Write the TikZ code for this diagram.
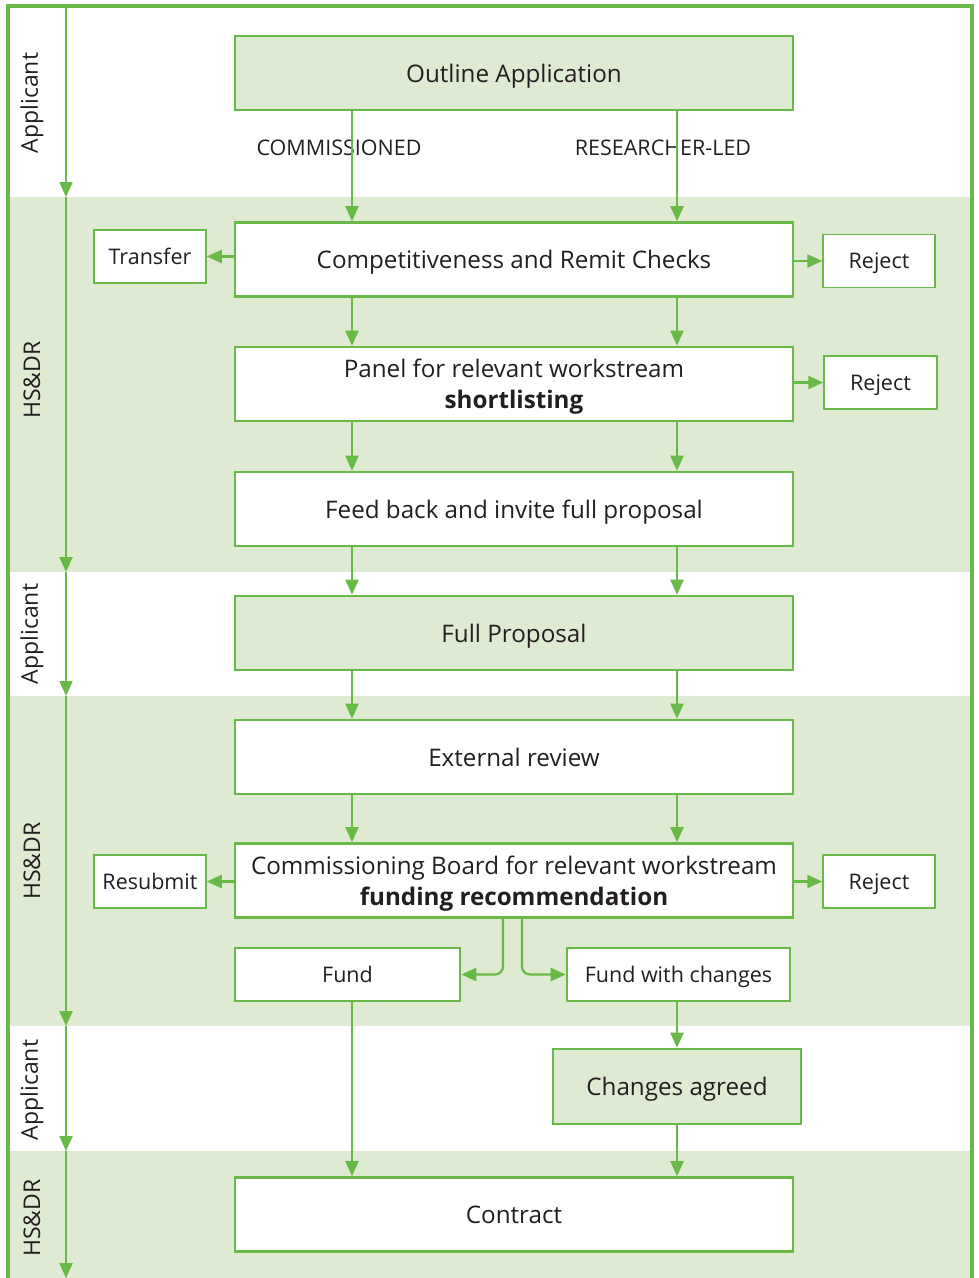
\documentclass[tikz,border=0pt]{standalone}
\usepackage{fontspec}
\setmainfont{Open Sans}
\usetikzlibrary{arrows.meta}
\definecolor{gline}{RGB}{104,185,72}
\definecolor{gfill}{RGB}{222,234,209}
\definecolor{txt}{RGB}{35,31,32}
\begin{document}
\begin{tikzpicture}[x=1pt,y=-1pt,
  mainbox/.style={draw=gline,line width=2.6pt,fill=white,text=txt,align=center,inner sep=0pt,
    minimum width=558pt,minimum height=74pt,text depth=0pt,font=\fontsize{24.2}{31}\selectfont},
  greenbox/.style={mainbox,fill=gfill},
  sidebox/.style={draw=gline,line width=1.5pt,fill=white,text=txt,align=center,inner sep=0pt,
    minimum width=112pt,minimum height=53pt,text depth=0pt,font=\fontsize{21.5}{24}\selectfont},
  arr/.style={draw=gline,line width=2.2pt,-{Triangle[length=15pt,width=13pt]}},
  lane/.style={rotate=90,text=txt,font=\fontsize{23}{26}\selectfont},
  route/.style={text=txt,font=\fontsize{21.5}{24}\selectfont}]
\useasboundingbox (0,0) rectangle (979,1278);
% bands
\fill[gfill] (9,197) rectangle (971,572);
\fill[gfill] (9,696) rectangle (971,1026);
\fill[gfill] (9,1151) rectangle (971,1278);
% frame
\draw[gline,line width=3.2pt] (8,1280) -- (8,6) -- (972,6) -- (972,1280);
% lane arrows
\coordinate (l0) at (66,6);
\coordinate (l1) at (66,197);
\coordinate (l2) at (66,572);
\coordinate (l3) at (66,696);
\coordinate (l4) at (66,1026);
\coordinate (l5) at (66,1151);
\coordinate (l6) at (66,1278);
\draw[arr] (l0) -- (l1);
\draw[arr] (l1) -- (l2);
\draw[arr] (l2) -- (l3);
\draw[arr] (l3) -- (l4);
\draw[arr] (l4) -- (l5);
\draw[arr] (l5) -- (l6);
% lane labels
\node[lane] (la1) at (32,103) {Applicant};
\node[lane] (la2) at (32,380) {HS\&DR};
\node[lane] (la3) at (32,634) {Applicant};
\node[lane] (la4) at (32,861) {HS\&DR};
\node[lane] (la5) at (32,1090) {Applicant};
\node[lane] (la6) at (32,1218) {HS\&DR};
% columns
\coordinate (c1) at (352,0);
\coordinate (c2) at (677,0);
\coordinate (b1) at (503,0);
\coordinate (b2) at (522,0);
% main boxes
\node[greenbox] (outline) at (514,73) {Outline Application};
\node[mainbox] (comp) at (514,259.5) {Competitiveness and Remit Checks};
\node[mainbox] (panel) at (514,384) {Panel for relevant workstream\\\textbf{shortlisting}};
\node[mainbox] (feed) at (514,509) {Feed back and invite full proposal};
\node[greenbox] (full) at (514,633) {Full Proposal};
\node[mainbox] (ext) at (514,757) {External review};
\node[mainbox] (board) at (514,880.5) {Commissioning Board for relevant workstream\\\textbf{funding recommendation}};
\node[mainbox] (contract) at (514,1214.5) {Contract};
% side boxes
\node[sidebox] (transfer) at (150,256.5) {Transfer};
\node[sidebox] (rej1) at (879,261) {Reject};
\node[sidebox,minimum width=113pt] (rej2) at (880.5,382.5) {Reject};
\node[sidebox] (resub) at (150,881.5) {Resubmit};
\node[sidebox] (rej3) at (879,881.5) {Reject};
\node[sidebox,line width=2.6pt,minimum width=225pt] (fund) at (347.5,974.5) {Fund};
\node[sidebox,line width=2.6pt,minimum width=223pt] (fwc) at (678.5,974.5) {Fund with changes};
\node[greenbox,minimum width=248pt,minimum height=75pt] (agreed) at (677,1086.5) {Changes agreed};
% route labels
\node[route] (lcomm) at (339,148) {COMMISSIONED};
\node[route] (lres) at (663,148) {RESEARCHER-LED};
% vertical connectors
\foreach \a/\b in {outline/comp,comp/panel,panel/feed,feed/full,full/ext,ext/board}{
  \draw[arr] (\a.south -| c1) -- (\b.north -| c1);
  \draw[arr] (\a.south -| c2) -- (\b.north -| c2);
}
\draw[arr] (fund.south -| c1) -- (contract.north -| c1);
\draw[arr] (fwc.south -| c2) -- (agreed.north -| c2);
\draw[arr] (agreed.south -| c2) -- (contract.north -| c2);
% side connectors
\draw[arr] (transfer.east -| comp.west) -- (transfer.east);
\draw[arr] (rej1.west -| comp.east) -- (rej1.west);
\draw[arr] (rej2.west -| panel.east) -- (rej2.west);
\draw[arr] (resub.east -| board.west) -- (resub.east);
\draw[arr] (rej3.west -| board.east) -- (rej3.west);
% branches
\draw[arr,rounded corners=8pt] (board.south -| b1) |- (fund.east);
\draw[arr,rounded corners=8pt] (board.south -| b2) |- (fwc.west);
\end{tikzpicture}
\end{document}
